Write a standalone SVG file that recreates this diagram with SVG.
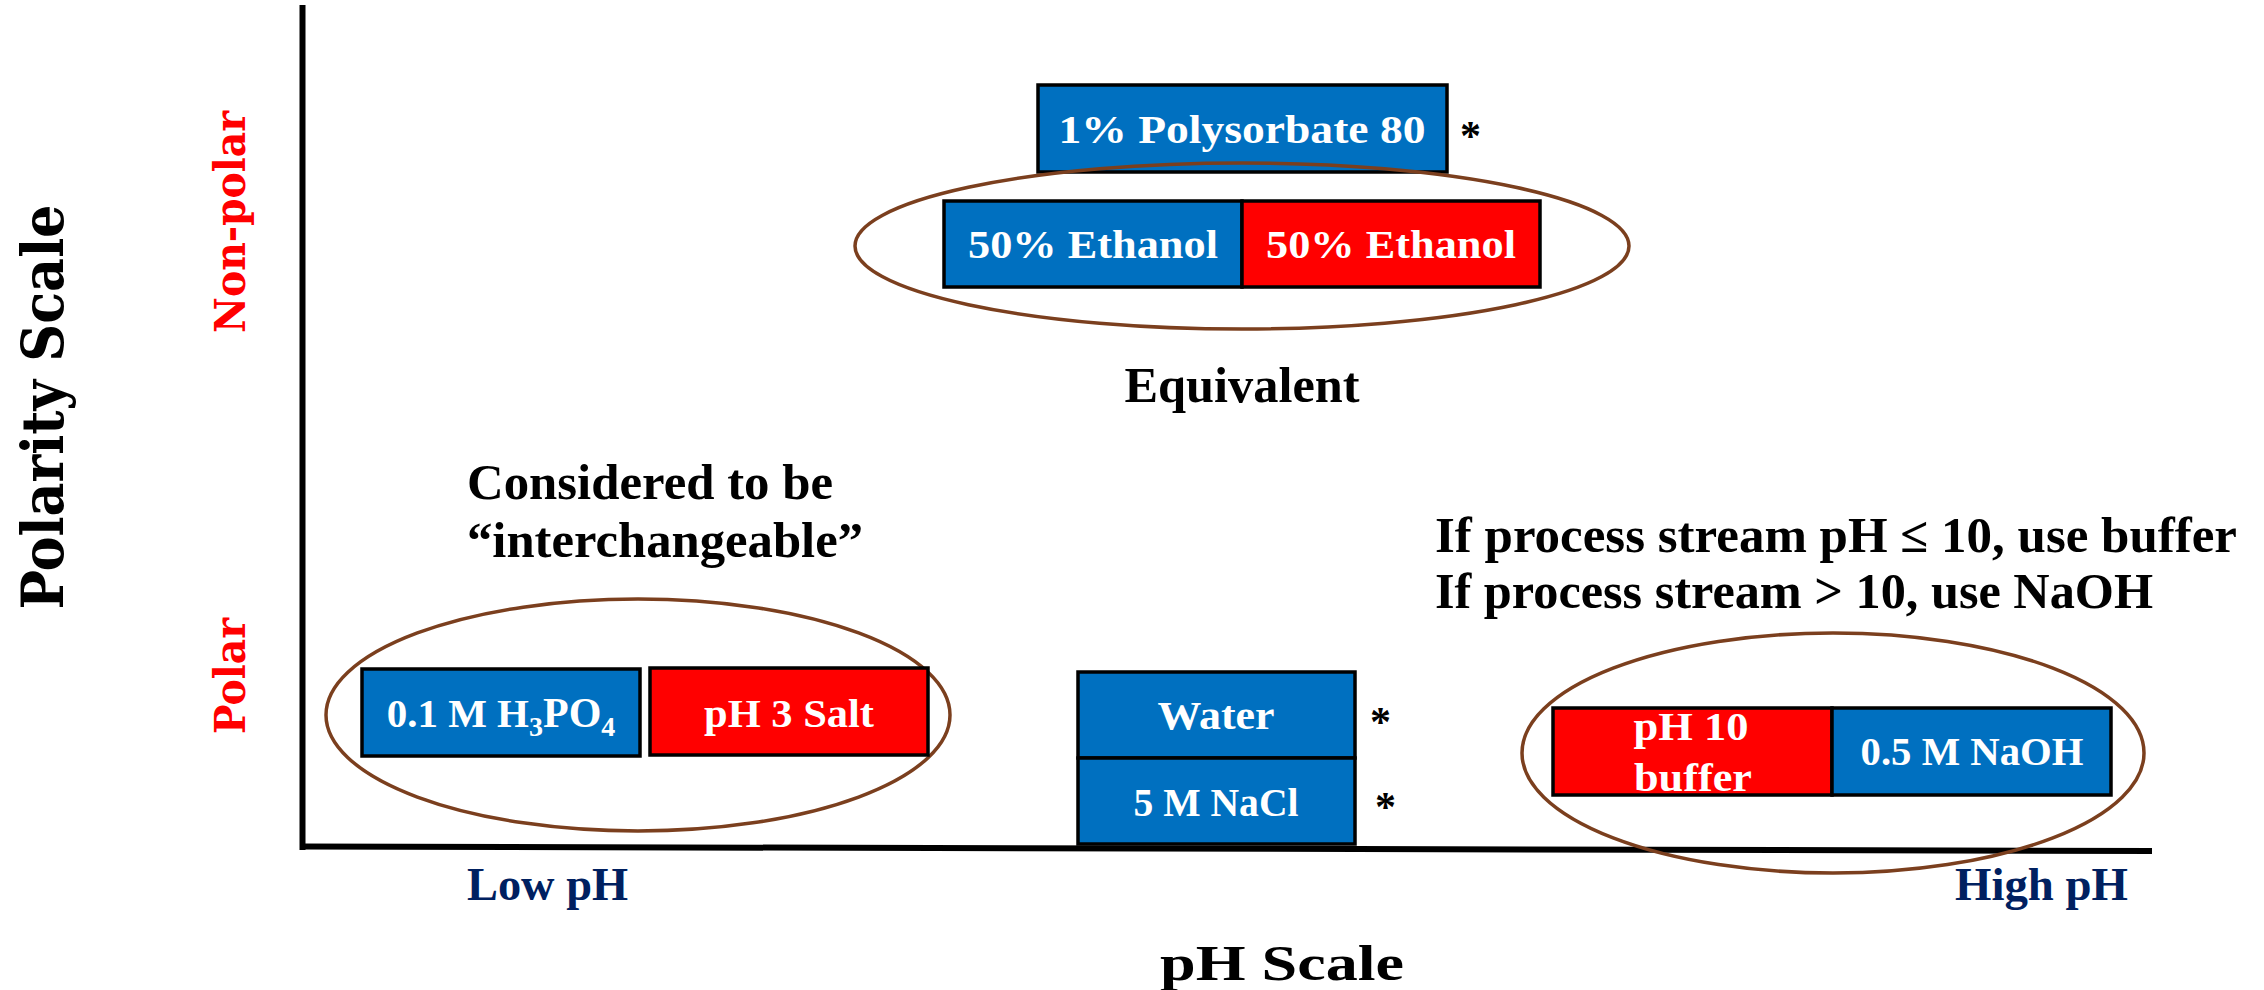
<svg xmlns="http://www.w3.org/2000/svg" width="2264" height="990" viewBox="0 0 2264 990">
<style>
.bx{stroke:#000;stroke-width:3.5}
.blue{fill:#0070C0}
.red{fill:#FF0000}
.ell{fill:none;stroke:#7B3F1E;stroke-width:3.5}
.wt{font-family:"Liberation Serif",serif;font-weight:bold;fill:#fff;text-anchor:middle;font-size:41px}
.bt{font-family:"Liberation Serif",serif;font-weight:bold;fill:#000;font-size:50px}
.nv{font-family:"Liberation Serif",serif;font-weight:bold;fill:#002060;font-size:46px}
.ast{font-family:"Liberation Serif",serif;font-weight:bold;fill:#000;font-size:42px}
.rot{font-family:"DejaVu Serif",serif;font-weight:bold;text-anchor:middle}
</style>
<rect width="2264" height="990" fill="#fff"/>
<g id="axes">
<line x1="302.5" y1="5" x2="302.5" y2="850" stroke="#000" stroke-width="6"/>
<line x1="300" y1="846.5" x2="2152" y2="851" stroke="#000" stroke-width="6"/>
</g>
<g id="axis-labels">
<text class="rot" font-size="58" fill="#000" transform="translate(63,407) rotate(-90)" textLength="405" lengthAdjust="spacingAndGlyphs">Polarity Scale</text>
<text class="rot" font-size="42" fill="#FF0000" transform="translate(245,222) rotate(-90)" textLength="222" lengthAdjust="spacingAndGlyphs">Non-polar</text>
<text class="rot" font-size="42" fill="#FF0000" transform="translate(245,676) rotate(-90)" textLength="116" lengthAdjust="spacingAndGlyphs">Polar</text>
<text class="nv" x="467" y="900" textLength="161" lengthAdjust="spacingAndGlyphs">Low pH</text>
<text class="nv" x="1955" y="900" textLength="173" lengthAdjust="spacingAndGlyphs">High pH</text>
<text class="bt" x="1160" y="980" font-size="60" textLength="244" lengthAdjust="spacingAndGlyphs">pH Scale</text>
</g>
<g id="polysorbate">
<rect class="bx blue" x="1038" y="85" width="409" height="87"/>
<text class="wt" x="1242" y="143" textLength="367" lengthAdjust="spacingAndGlyphs">1% Polysorbate 80</text>
<text class="ast" x="1460" y="150">*</text>
</g>
<g id="ethanol-group">
<ellipse class="ell" cx="1242" cy="246" rx="387" ry="83"/>
<rect class="bx blue" x="944" y="201" width="298" height="86"/>
<rect class="bx red" x="1242" y="201" width="298" height="86"/>
<text class="wt" x="1093" y="258" textLength="250" lengthAdjust="spacingAndGlyphs">50% Ethanol</text>
<text class="wt" x="1391" y="258" textLength="250" lengthAdjust="spacingAndGlyphs">50% Ethanol</text>
<text class="bt" x="1242" y="402" text-anchor="middle" textLength="235" lengthAdjust="spacingAndGlyphs">Equivalent</text>
</g>
<g id="low-ph-group">
<text class="bt" x="467" y="499" textLength="366" lengthAdjust="spacingAndGlyphs">Considered to be</text>
<text class="bt" x="467" y="557" textLength="396" lengthAdjust="spacingAndGlyphs">“interchangeable”</text>
<ellipse class="ell" cx="638" cy="715" rx="312" ry="116"/>
<rect class="bx blue" x="362" y="669" width="278" height="87"/>
<rect class="bx red" x="650" y="668" width="278" height="87"/>
<text class="wt" x="501" y="727" font-size="42">0.1 M H<tspan font-size="28" dy="9">3</tspan><tspan font-size="42" dy="-9">PO</tspan><tspan font-size="28" dy="9">4</tspan></text>
<text class="wt" x="789" y="727" textLength="170" lengthAdjust="spacingAndGlyphs">pH 3 Salt</text>
</g>
<g id="water">
<rect class="bx blue" x="1078" y="672" width="277" height="86"/>
<text class="wt" x="1216" y="729" textLength="117" lengthAdjust="spacingAndGlyphs">Water</text>
<text class="ast" x="1370" y="736">*</text>
</g>
<g id="nacl">
<rect class="bx blue" x="1078" y="758" width="277" height="86"/>
<text class="wt" x="1216" y="816" textLength="165" lengthAdjust="spacingAndGlyphs">5 M NaCl</text>
<text class="ast" x="1375" y="821">*</text>
</g>
<g id="high-ph-group">
<text class="bt" x="1435" y="552" font-size="48" textLength="802" lengthAdjust="spacingAndGlyphs">If process stream pH ≤ 10, use buffer</text>
<text class="bt" x="1435" y="608" font-size="48" textLength="718" lengthAdjust="spacingAndGlyphs">If process stream &gt; 10, use NaOH</text>
<ellipse class="ell" cx="1833" cy="753" rx="311" ry="120"/>
<rect class="bx red" x="1553" y="708" width="279" height="87"/>
<rect class="bx blue" x="1832" y="708" width="279" height="87"/>
<text class="wt" x="1691" y="740" font-size="40" textLength="115" lengthAdjust="spacingAndGlyphs">pH 10</text>
<text class="wt" x="1693" y="791" font-size="40" textLength="118" lengthAdjust="spacingAndGlyphs">buffer</text>
<text class="wt" x="1972" y="765" textLength="223" lengthAdjust="spacingAndGlyphs">0.5 M NaOH</text>
</g>
</svg>
